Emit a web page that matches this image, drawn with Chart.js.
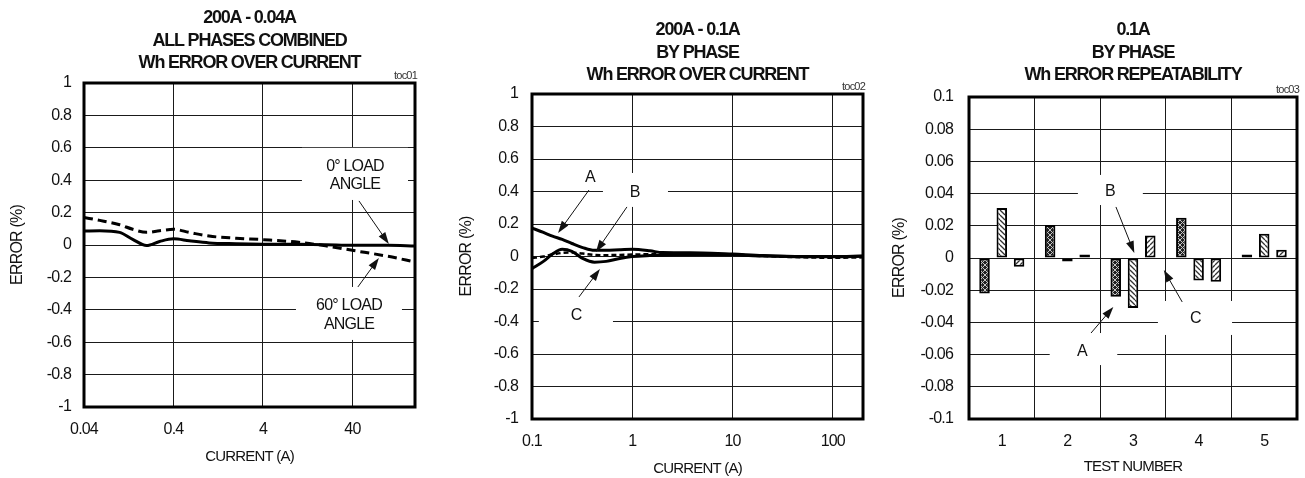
<!DOCTYPE html>
<html>
<head>
<meta charset="utf-8">
<title>Wh error charts</title>
<script src="https://cdn.jsdelivr.net/npm/chart.js@4.4.1/dist/chart.umd.min.js"></script>
<style>
  html, body { margin: 0; padding: 0; background: #fff; }
  #wrap { position: relative; width: 1305px; height: 478px; overflow: hidden; }
  canvas { position: absolute; top: 0; }
</style>
</head>
<body>
<div id="wrap">
  <canvas id="toc01" width="430" height="478" style="left:0"></canvas>
  <canvas id="toc02" width="440" height="478" style="left:430px"></canvas>
  <canvas id="toc03" width="435" height="478" style="left:870px"></canvas>
</div>
<script>
// --- toc01: 200A - 0.04A, all phases combined ---
const current1 = [0.04, 0.06, 0.1, 0.14, 0.2, 0.28, 0.4, 0.6, 1, 2, 4, 10, 20, 40, 100, 200];
const angle0 = [0.086, 0.088, 0.078, 0.035, -0.003, 0.022, 0.038, 0.026, 0.013, 0.008, 0.005, 0.004, 0.002, -0.002, -0.002, -0.006];
const angle60 = [0.17, 0.152, 0.125, 0.097, 0.078, 0.088, 0.097, 0.078, 0.055, 0.042, 0.033, 0.017, -0.005, -0.033, -0.07, -0.105];
const xTicks1 = [0.04, 0.4, 4, 40];
const xLabels1 = ["0.04", "0.4", "4", "40"];

// --- toc02: 200A - 0.1A, by phase ---
const current2 = [0.1, 0.13, 0.16, 0.2, 0.25, 0.32, 0.42, 0.55, 0.75, 1, 1.5, 2, 5, 10, 20, 50, 100, 200];
const phaseA2 = [0.175, 0.148, 0.125, 0.105, 0.08, 0.055, 0.038, 0.038, 0.042, 0.044, 0.035, 0.024, 0.022, 0.015, 0.006, 0.0, 0.0, 0.003];
const phaseB2 = [-0.01, 0.0, 0.012, 0.022, 0.024, 0.018, 0.01, 0.008, 0.01, 0.012, 0.014, 0.016, 0.018, 0.012, 0.003, -0.005, -0.008, -0.005];
const phaseC2 = [-0.075, -0.03, 0.015, 0.044, 0.032, -0.012, -0.035, -0.03, -0.012, 0.0, 0.006, 0.008, 0.012, 0.01, 0.003, -0.002, -0.002, 0.002];
const xTicks2 = [0.1, 1, 10, 100];
const xLabels2 = ["0.1", "1", "10", "100"];

const yTicksPct = [-1, -0.8, -0.6, -0.4, -0.2, 0, 0.2, 0.4, 0.6, 0.8, 1];
const yLabelsPct = ["-1", "-0.8", "-0.6", "-0.4", "-0.2", "0", "0.2", "0.4", "0.6", "0.8", "1"];

// --- toc03: 0.1A, by phase, repeatability ---
const testNumbers = ["1", "2", "3", "4", "5"];
const phaseA3 = [-0.022, 0.0205, -0.024, 0.025, 0.0014];
const phaseB3 = [0.031, -0.001, -0.031, -0.014, 0.015];
const phaseC3 = [-0.0055, 0.0014, 0.014, -0.0148, 0.0052];
const yTicks3 = [-0.1, -0.08, -0.06, -0.04, -0.02, 0, 0.02, 0.04, 0.06, 0.08, 0.1];
const yLabels3 = ["-0.1", "-0.08", "-0.06", "-0.04", "-0.02", "0", "0.02", "0.04", "0.06", "0.08", "0.1"];

const FONT = "'Liberation Sans Narrow', 'Arial Narrow', 'Liberation Sans', Arial, sans-serif";
Chart.defaults.font.family = FONT;
Chart.defaults.color = "#111";

const pts = (xs, ys) => xs.map((x, i) => ({ x, y: ys[i] }));

function hatch(kind) {
  const s = 5;
  const c = document.createElement("canvas");
  c.width = s; c.height = s;
  const g = c.getContext("2d");
  if (kind === "cross") {
    g.fillStyle = "#222"; g.fillRect(0, 0, s, s);
    g.strokeStyle = "#c4c4c4"; g.lineWidth = 1;
    g.beginPath();
    g.moveTo(0, 0); g.lineTo(s, s);
    g.moveTo(s, 0); g.lineTo(0, s);
    g.stroke();
  } else {
    g.fillStyle = "#fff"; g.fillRect(0, 0, s, s);
    g.strokeStyle = "#333"; g.lineWidth = 1.3;
    g.beginPath();
    for (let k = -1; k <= 1; k++) {
      if (kind === "back") { g.moveTo(k * s, 0); g.lineTo(k * s + s, s); }
      else { g.moveTo(k * s, s); g.lineTo(k * s + s, 0); }
    }
    g.stroke();
  }
  return g.createPattern(c, "repeat");
}

// the reference uses a narrow face; tighten the spacing of the regular one instead
const narrow = {
  id: "narrow",
  beforeDraw(chart) { chart.ctx.letterSpacing = "-0.8px"; },
  afterDraw(chart) { chart.ctx.letterSpacing = "0px"; }
};

// frame, titles, toc tag, and the callout boxes / labels / arrows
const decor = {
  id: "decor",
  beforeDatasetsDraw(chart) {
    const n = chart.options.plugins.decor;
    const { ctx, scales: { x, y } } = chart;
    ctx.save();
    ctx.fillStyle = "#fff";
    (n.boxes || []).forEach(([x0, y0, x1, y1]) => {
      const px0 = x.getPixelForValue(x0), px1 = x.getPixelForValue(x1);
      const py0 = y.getPixelForValue(y0), py1 = y.getPixelForValue(y1);
      ctx.fillRect(px0, py0, px1 - px0, py1 - py0);
    });
    ctx.restore();
  },
  afterDatasetsDraw(chart) {
    const n = chart.options.plugins.decor;
    const { ctx, chartArea: a, scales: { x, y } } = chart;
    ctx.save();
    ctx.strokeStyle = "#000";
    ctx.lineWidth = 3;
    ctx.strokeRect(a.left, a.top, a.right - a.left, a.bottom - a.top);

    ctx.fillStyle = "#111";
    ctx.textAlign = "center";
    ctx.textBaseline = "middle";
    ctx.font = "bold 18px " + FONT;
    ctx.letterSpacing = "-1.2px";
    const cx = (a.left + a.right) / 2;
    n.title.forEach((t, i) => ctx.fillText(t, cx, n.titleY + i * 22.5));
    ctx.letterSpacing = "-0.8px";

    ctx.font = "11px " + FONT;
    ctx.textAlign = "right";
    ctx.fillStyle = "#333";
    ctx.fillText(n.tag, a.right + 2, a.top - 7);

    ctx.fillStyle = "#111";
    ctx.textAlign = "center";
    ctx.font = "16px " + FONT;
    (n.labels || []).forEach(([t, vx, vy]) => ctx.fillText(t, x.getPixelForValue(vx), y.getPixelForValue(vy) + 1));

    ctx.strokeStyle = "#111";
    ctx.lineWidth = 1;
    (n.arrows || []).forEach(([x0, y0, x1, y1]) => {
      const p0 = [x.getPixelForValue(x0), y.getPixelForValue(y0)];
      const p1 = [x.getPixelForValue(x1), y.getPixelForValue(y1)];
      const ang = Math.atan2(p1[1] - p0[1], p1[0] - p0[0]);
      const c = Math.cos(ang), s = Math.sin(ang);
      ctx.beginPath(); ctx.moveTo(p0[0], p0[1]); ctx.lineTo(p1[0] - 6 * c, p1[1] - 6 * s); ctx.stroke();
      ctx.beginPath();
      ctx.moveTo(p1[0], p1[1]);
      ctx.lineTo(p1[0] - 12 * c + 4 * s, p1[1] - 12 * s - 4 * c);
      ctx.lineTo(p1[0] - 12 * c - 4 * s, p1[1] - 12 * s + 4 * c);
      ctx.closePath(); ctx.fill();
    });
    ctx.restore();
  }
};

const grid = { color: "#1a1a1a", lineWidth: 1, drawTicks: false };

function yAxis(min, max, values, labels, width, pad, titlePad) {
  return {
    type: "linear", min, max,
    afterBuildTicks: (s) => { s.ticks = values.map((v) => ({ value: v })); },
    afterFit: (s) => { s.width = width; },
    grid, border: { display: false },
    ticks: { padding: pad, font: { size: 16 }, callback: (v, i) => labels[i] },
    title: { display: true, text: "ERROR (%)", font: { size: 16 }, padding: { top: titlePad, bottom: 0 } }
  };
}

function logX(min, max, values, labels, height, titlePad) {
  return {
    type: "logarithmic", min, max,
    afterBuildTicks: (s) => { s.ticks = values.map((v) => ({ value: v })); },
    afterFit: (s) => { s.height = height; },
    grid, border: { display: false },
    ticks: { padding: 13.4, font: { size: 16 }, autoSkip: false, maxRotation: 0, callback: (v, i) => labels[i] },
    title: { display: true, text: "CURRENT (A)", font: { size: 15 }, padding: { top: 0, bottom: titlePad } }
  };
}

const common = {
  responsive: false,
  animation: false,
  events: [],
  plugins: { legend: { display: false }, tooltip: { enabled: false } }
};

const curve = (data, dash) => ({
  data, borderColor: "#000", borderWidth: 3, borderDash: dash || [],
  pointRadius: 0, fill: false, cubicInterpolationMode: "monotone"
});

new Chart(document.getElementById("toc01"), {
  type: "line",
  data: { datasets: [curve(pts(current1, angle0)), curve(pts(current1, angle60), [9, 5])] },
  options: {
    ...common,
    layout: { padding: { left: 0, top: 83, right: 15, bottom: 0 } },
    scales: {
      x: logX(0.04, 200, xTicks1, xLabels1, 71, 12),
      y: yAxis(-1, 1, yTicksPct, yLabelsPct, 84, 13, 8.4)
    },
    plugins: {
      ...common.plugins,
      decor: {
        title: ["200A - 0.04A", "ALL PHASES COMBINED", "Wh ERROR OVER CURRENT"],
        titleY: 18.5, tag: "toc01",
        boxes: [[10.9, 0.6, 167, 0.278], [9.35, -0.259, 143, -0.586]],
        labels: [["0° LOAD", 42.7, 0.488], ["ANGLE", 42.7, 0.377], ["60° LOAD", 36.6, -0.37], ["ANGLE", 36.6, -0.488]],
        arrows: [[47.3, 0.272, 102, 0.006], [46, -0.259, 79, -0.08]]
      }
    }
  },
  plugins: [narrow, decor]
});

new Chart(document.getElementById("toc02"), {
  type: "line",
  data: {
    datasets: [
      curve(pts(current2, phaseA2)),
      Object.assign(curve(pts(current2, phaseB2), [5, 3]), { borderWidth: 2.5 }),
      curve(pts(current2, phaseC2))
    ]
  },
  options: {
    ...common,
    layout: { padding: { left: 0, top: 94, right: 7, bottom: 0 } },
    scales: {
      x: logX(0.1, 200, xTicks2, xLabels2, 59, 0),
      y: yAxis(-1, 1, yTicksPct, yLabelsPct, 102, 14, 27.4)
    },
    plugins: {
      ...common.plugins,
      decor: {
        title: ["200A - 0.1A", "BY PHASE", "Wh ERROR OVER CURRENT"],
        titleY: 30.5, tag: "toc02",
        boxes: [[0.51, 0.514, 2.27, 0.305], [0.117, -0.286, 0.642, -0.471]],
        labels: [["A", 0.379, 0.489], ["B", 1.06, 0.397], ["C", 0.275, -0.36]],
        arrows: [[0.37, 0.409, 0.182, 0.145], [0.885, 0.305, 0.434, 0.028], [0.294, -0.249, 0.476, -0.077]]
      }
    }
  },
  plugins: [narrow, decor]
});

const bar = (data, kind) => ({
  data, backgroundColor: hatch(kind), borderColor: "#000", borderWidth: 2, borderSkipped: false,
  barPercentage: 0.61, categoryPercentage: 0.79, minBarLength: 3.5
});

new Chart(document.getElementById("toc03"), {
  type: "bar",
  data: {
    labels: testNumbers,
    datasets: [bar(phaseA3, "cross"), bar(phaseB3, "back"), bar(phaseC3, "fwd")]
  },
  options: {
    ...common,
    layout: { padding: { left: 0, top: 97, right: 8, bottom: 0 } },
    scales: {
      x: {
        type: "category", offset: true,
        afterFit: (s) => { s.height = 59; },
        grid: { ...grid, offset: true }, border: { display: false },
        ticks: { padding: 13.4, font: { size: 16 } },
        title: { display: true, text: "TEST NUMBER", font: { size: 15 }, padding: { top: 0, bottom: 2 } }
      },
      y: yAxis(-0.1, 0.1, yTicks3, yLabels3, 99, 16, 20.4)
    },
    plugins: {
      ...common.plugins,
      decor: {
        title: ["0.1A", "BY PHASE", "Wh ERROR REPEATABILITY"],
        titleY: 30.5, tag: "toc03",
        boxes: [[1.16, 0.0516, 2.15, 0.0329], [2.38, -0.0267, 3.51, -0.0478], [0.73, -0.0466, 1.76, -0.0665]],
        labels: [["B", 1.65, 0.0416], ["C", 2.95, -0.0373], ["A", 1.22, -0.0578]],
        arrows: [[1.74, 0.0317, 2.02, 0.0031], [1.36, -0.0466, 1.70, -0.0304], [2.75, -0.0273, 2.47, -0.0075]]
      }
    }
  },
  plugins: [narrow, decor]
});
</script>
</body>
</html>
